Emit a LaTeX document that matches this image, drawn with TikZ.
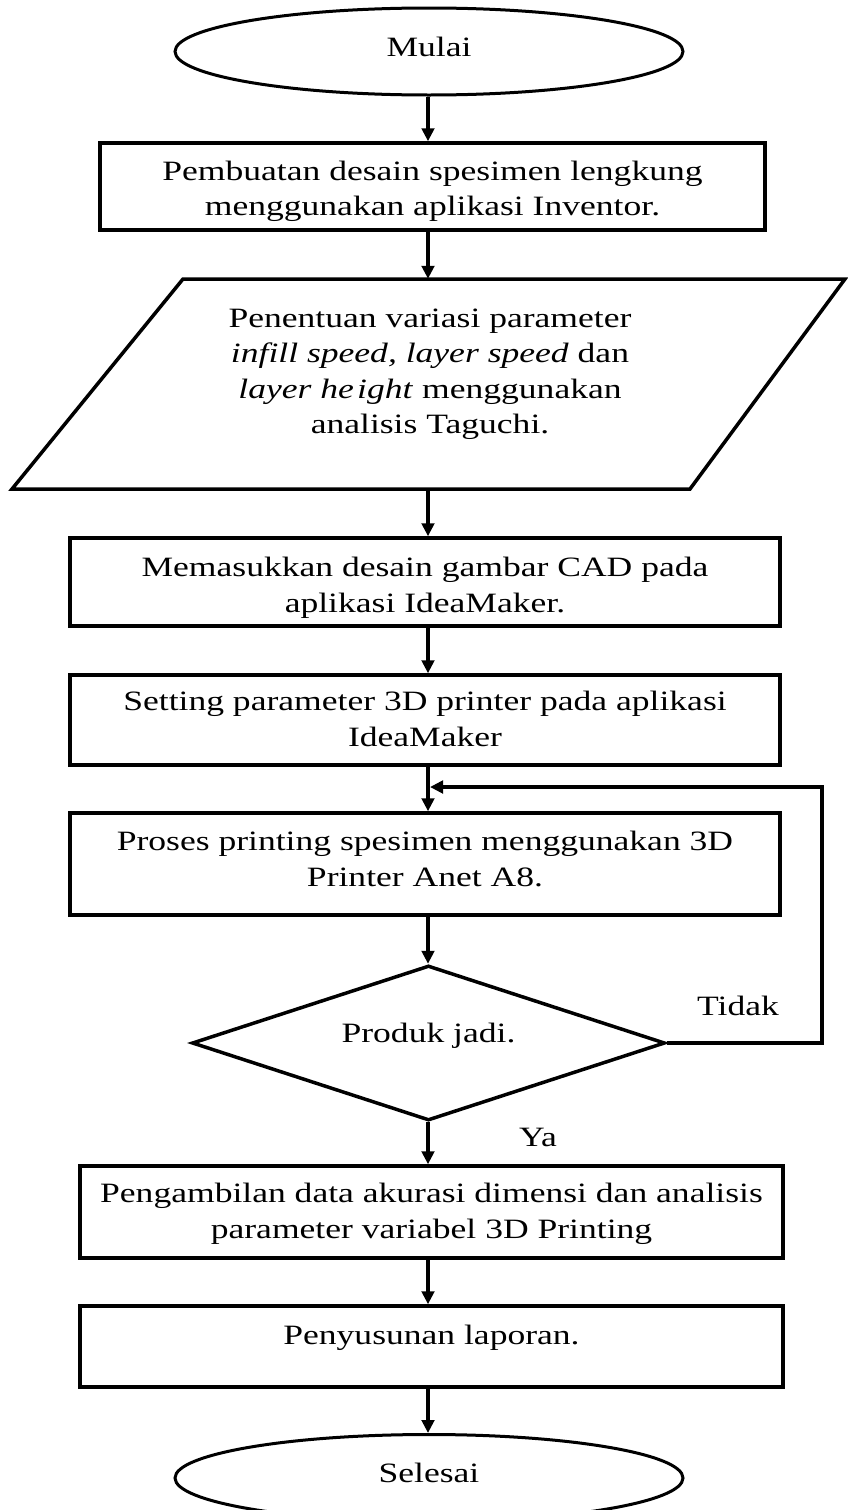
\documentclass[tikz,border=0pt]{standalone}
\usepackage{fontspec}
\setmainfont{Liberation Serif}[FakeStretch=1.27]
\usetikzlibrary{shapes.geometric,arrows.meta}
\newcommand{\tx}[2]{\raisebox{#1}[\height][\depth]{\begin{tabular}{@{}c@{}}#2\end{tabular}}}
\begin{document}
\begin{tikzpicture}[x=1pt,y=1pt,
  every node/.style={font=\fontsize{28}{35.5}\selectfont},
  line/.style={line width=3.5pt},
  boxnode/.style={draw,line width=3.5pt,rectangle,inner sep=0pt},
  termnode/.style={draw,line width=3pt,ellipse,inner sep=0pt,minimum width=508,minimum height=87},
  arr/.style={line width=3.5pt,-{Triangle[length=13pt,width=12.5pt]}},
  lbl/.style={inner sep=0pt}]
\path[use as bounding box] (0,0) rectangle (847,-1510);
\coordinate (col) at (428,0);
\coordinate (rx) at (822,0);

\node[termnode] (start) at (429,-51.5) {\tx{2pt}{Mulai}};
\node[boxnode,minimum width=665,minimum height=87] (b1) at (432.5,-186.5)
  {\tx{-4.5pt}{Pembuatan desain spesimen lengkung\\menggunakan aplikasi Inventor.}};
\draw[line,line join=miter] (183,-279) -- (845,-279) -- (690,-489) -- (12,-489) -- cycle;
\node[lbl,minimum height=210] (para) at (430,-384)
  {\tx{10.5pt}{Penentuan variasi parameter\\\textit{infill speed, layer speed} dan\\\textit{layer he\kern0.12em ight} menggunakan\\analisis Taguchi.}};
\node[boxnode,minimum width=710,minimum height=88] (b2) at (425,-582)
  {\tx{-5.5pt}{Memasukkan desain gambar CAD pada\\aplikasi IdeaMaker.}};
\node[boxnode,minimum width=710,minimum height=90] (b3) at (425,-720)
  {\tx{-1.5pt}{Setting parameter 3D printer pada aplikasi\\IdeaMaker}};
\node[boxnode,minimum width=710,minimum height=102] (b4) at (425,-864)
  {\tx{2.5pt}{Proses printing spesimen menggunakan 3D\\Printer Anet A8.}};
\node[draw,line width=3.5pt,diamond,aspect=3,inner sep=0pt,minimum width=473,minimum height=155] (dia) at (428.5,-1043)
  {\tx{8pt}{Produk jadi.}};
\node[boxnode,minimum width=703,minimum height=92] (b5) at (431.5,-1212)
  {\tx{-1.5pt}{Pengambilan data akurasi dimensi dan analisis\\parameter variabel 3D Printing}};
\node[boxnode,minimum width=703,minimum height=81] (b6) at (431.5,-1346.5)
  {\tx{9.5pt}{Penyusunan laporan.}};
\node[termnode] (end) at (429,-1478) {\tx{3pt}{Selesai}};

\node[lbl] (tidak) at (738,-1006) {Tidak};
\node[lbl] (ya) at (538,-1137) {Ya};

\coordinate (lp) at (430,-787);

\draw[arr] (start.south -| col) -- (b1.north -| col);
\draw[arr] (b1.south -| col) -- (para.north -| col);
\draw[arr] (para.south -| col) -- (b2.north -| col);
\draw[arr] (b2.south -| col) -- (b3.north -| col);
\draw[arr] (b3.south -| col) -- (b4.north -| col);
\draw[arr] (b4.south -| col) -- (dia.north -| col);
\draw[arr] (dia.south -| col) -- (b5.north -| col);
\draw[arr] (b5.south -| col) -- (b6.north -| col);
\draw[arr] (b6.south -| col) -- (end.north -| col);
\draw[arr,line join=miter] (dia.east) -- (dia.east -| rx) -- (rx |- lp) -- (lp);
\end{tikzpicture}
\end{document}
